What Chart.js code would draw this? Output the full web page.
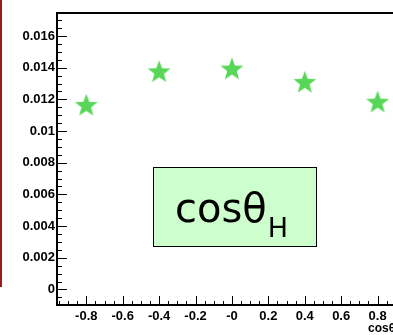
<!DOCTYPE html>
<html>
    <head>
        <meta charset="UTF-8">
        <title>cos theta H</title>
        <script src="https://cdn.jsdelivr.net/npm/chart.js"></script>
        <style>
            html, body { margin: 0; padding: 0; background: #ffffff; overflow: hidden; }
            #wrap { position: relative; width: 430px; height: 335px; }
        </style>
    </head>
    <body>
        <div id="wrap">
            <canvas id="cos_chart_canvas" width="430" height="335"></canvas>
        </div>

    <script>
//                                                              DATA
//---------------------------------------------------------------------------------------------------------------------------------------------------------
    const cos_bins   = [-0.8, -0.4, 0, 0.4, 0.8];
    const cos_values = [0.01159, 0.01371, 0.01388, 0.01304, 0.01179];

    const x_tick_values = [-0.8, -0.6, -0.4, -0.2, 0, 0.2, 0.4, 0.6, 0.8];
    const x_tick_labels = ['-0.8', '-0.6', '-0.4', '-0.2', '-0', '0.2', '0.4', '0.6', '0.8'];
    const y_tick_values = [0, 0.002, 0.004, 0.006, 0.008, 0.01, 0.012, 0.014, 0.016];
    const y_tick_labels = ['0', '0.002', '0.004', '0.006', '0.008', '0.01', '0.012', '0.014', '0.016'];

    const label_font = { family: 'Liberation Sans', size: 13, weight: 'bold' };

//                                                              STAR MARKER
//---------------------------------------------------------------------------------------------------------------------------------------------------------
    function makeStar(radius, color) {
        let c = document.createElement('canvas');
        c.width = radius * 2 + 2;
        c.height = radius * 2 + 2;
        let ctx = c.getContext('2d');
        let cx = c.width / 2, cy = c.height / 2;
        ctx.beginPath();
        for (let i = 0; i < 10; i++) {
            let r = (i % 2 === 0) ? radius : radius * 0.42;
            let a = -Math.PI / 2 + i * Math.PI / 5;
            ctx.lineTo(cx + r * Math.cos(a), cy + r * Math.sin(a));
        }
        ctx.closePath();
        ctx.fillStyle = color;
        ctx.fill();
        return c;
    }

//                                                              ROOT STYLE FRAME
//---------------------------------------------------------------------------------------------------------------------------------------------------------
    const rootFrame = {
        id: 'rootFrame',
        afterDraw(chart) {
            let ctx = chart.ctx;
            let area = chart.chartArea;
            let xs = chart.scales.x, ys = chart.scales.y;
            ctx.save();

            // red line at left edge
            ctx.fillStyle = '#9a1c1c';
            ctx.fillRect(0, 0, 2, 287);

            // frame
            ctx.strokeStyle = '#000';
            ctx.lineWidth = 2;
            ctx.strokeRect(area.left, area.top, area.right - area.left, area.bottom - area.top);

            // y ticks (inward)
            ctx.lineWidth = 1;
            ctx.beginPath();
            for (let v = -0.0005; v <= ys.max + 1e-9; v += 0.0005) {
                let p = Math.round(ys.getPixelForValue(v)) + 0.5;
                if (p < area.top || p > area.bottom) continue;
                let major = Math.abs(Math.round(v / 0.002) * 0.002 - v) < 1e-7;
                ctx.moveTo(area.left, p);
                ctx.lineTo(area.left + (major ? 10 : 5), p);
            }
            // x ticks (inward)
            for (let v = -0.95; v <= xs.max + 1e-9; v += 0.05) {
                let p = Math.round(xs.getPixelForValue(v)) + 0.5;
                if (p < area.left || p > area.right) continue;
                let major = Math.abs(Math.round(v / 0.2) * 0.2 - v) < 1e-7;
                ctx.moveTo(p, area.bottom);
                ctx.lineTo(p, area.bottom - (major ? 9 : 4));
            }
            ctx.stroke();

            // axis title at the end of x axis
            ctx.fillStyle = '#000';
            ctx.textBaseline = 'alphabetic';
            ctx.font = 'bold 12px "Liberation Sans"';
            ctx.fillText('cosθ', 368, 332);
            let w = ctx.measureText('cosθ').width;
            ctx.font = 'bold 9px "Liberation Sans"';
            ctx.fillText('H', 368 + w, 335);

            // label box
            ctx.fillStyle = '#ccffcc';
            ctx.fillRect(153, 167, 164, 80);
            ctx.strokeStyle = '#000';
            ctx.lineWidth = 1;
            ctx.strokeRect(153.5, 167.5, 163, 79);
            ctx.fillStyle = '#000';
            ctx.font = '40px "DejaVu Sans"';
            ctx.fillText('cosθ', 175, 222);
            let w2 = ctx.measureText('cosθ').width;
            ctx.font = '27px "DejaVu Sans"';
            ctx.fillText('H', 176 + w2, 237);

            ctx.restore();
        }
    };

//                                                              GRAPH
//---------------------------------------------------------------------------------------------------------------------------------------------------------
    let cos_chart_location = document.getElementById('cos_chart_canvas');
    let cos_chart = new Chart(cos_chart_location, {
        type: 'scatter',
        data: {
            datasets: [{
                data: cos_bins.map((x, i) => ({ x: x, y: cos_values[i] })),
                pointStyle: makeStar(12, '#57d657'),
                pointRadius: 12,
                pointHoverRadius: 12,
            }],
        },
        options: {
            responsive: false,
            animation: false,
            layout: { padding: { top: 10, right: 16, left: 0, bottom: 0 } },
            plugins: {
                legend: { display: false },
                tooltip: { enabled: false },
            },
            scales: {
                x: {
                    type: 'linear',
                    min: -0.961,
                    max: 1.0,
                    grid: { display: false, drawTicks: false },
                    border: { display: false },
                    afterFit(scale) { scale.height = 30; },
                    afterBuildTicks(scale) { scale.ticks = x_tick_values.map(v => ({ value: v })); },
                    ticks: {
                        padding: 4,
                        color: '#000',
                        font: label_font,
                        maxRotation: 0,
                        autoSkip: false,
                        callback: (value) => x_tick_labels[x_tick_values.findIndex(t => Math.abs(t - value) < 1e-9)],
                    },
                },
                y: {
                    min: -0.00098,
                    max: 0.01745,
                    grid: { display: false, drawTicks: false },
                    border: { display: false },
                    afterFit(scale) { scale.width = 57; },
                    afterBuildTicks(scale) { scale.ticks = y_tick_values.map(v => ({ value: v })); },
                    ticks: {
                        padding: 2,
                        color: '#000',
                        font: label_font,
                        autoSkip: false,
                        callback: (value) => y_tick_labels[y_tick_values.findIndex(t => Math.abs(t - value) < 1e-9)],
                    },
                },
            },
        },
        plugins: [rootFrame],
    });

//                                                              END OF SCRIPT
//---------------------------------------------------------------------------------------------------------------------------------------------------------
    </script>
    </body>
</html>
